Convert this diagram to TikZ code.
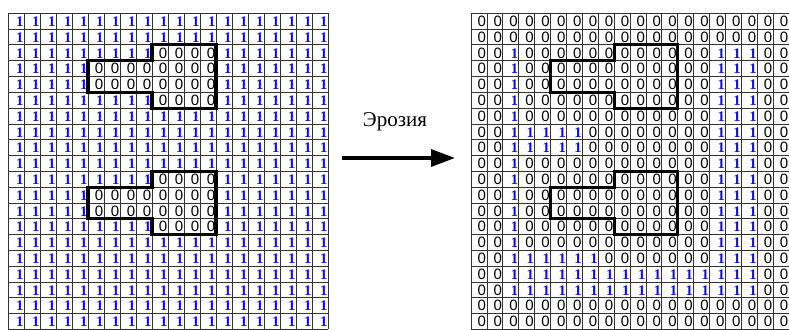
\documentclass[tikz,border=0pt]{standalone}
\usepackage{fontspec}
\setmainfont{Liberation Serif}
\newfontfamily\zerofont{Liberation Sans}
\usetikzlibrary{arrows.meta}
\definecolor{onecol}{RGB}{10,10,235}

\begin{document}
\begin{tikzpicture}[x=1pt,y=-1pt,
  gridline/.style={line width=0.8pt, draw=black!80},
  region/.style={line width=3.2pt, line join=miter, draw=black},
  onedigit/.style={anchor=base east, inner sep=0pt, text=onecol,
    font=\fontsize{14.6}{14.6}\selectfont\bfseries},
  zerodigit/.style={anchor=base east, inner sep=0pt, text=black,
    font=\fontsize{15}{15}\zerofont},
  bigarrow/.style={line width=3.3pt, -{Triangle[length=24pt,width=17pt]}},
  caption/.style={anchor=base, inner sep=0pt, font=\fontsize{21}{21}\selectfont}]

\useasboundingbox (0,0) rectangle (789,329);

% ---------- grid geometry: origin x, origin y, cell width, row height
\def\ly{13.3}
\def\rh{15.8}

% ---------- source image (left grid)
\def\lx{8}
\def\lw{16}
\foreach \r in {0,...,19}{
  \foreach \c in {0,...,19}{
    \pgfmathtruncatemacro{\z}{((\r==2||\r==5||\r==10||\r==13)&&(\c>=9)&&(\c<=12))||((\r==3||\r==4||\r==11||\r==12)&&(\c>=5)&&(\c<=12))}
    \ifnum\z=1
      \node[zerodigit] (L-\r-\c) at ({\lx+(\c+1)*\lw-0.7},{\ly+(\r+1)*\rh-2.6}) {0};
    \else
      \node[onedigit] (L-\r-\c) at ({\lx+(\c+1)*\lw-0.4},{\ly+(\r+1)*\rh-2.6}) {1};
    \fi
  }
}
\foreach \i in {0,...,20}{
  \draw[gridline] ({\lx+\i*\lw},\ly) -- ({\lx+\i*\lw},{\ly+20*\rh});
  \draw[gridline] (\lx,{\ly+\i*\rh}) -- ({\lx+20*\lw},{\ly+\i*\rh});
}
\foreach \ro in {2,10}{
  \draw[region] ({\lx+9*\lw},{\ly+\ro*\rh}) -- ++({4*\lw},0) -- ++(0,{4*\rh})
    -- ++({-4*\lw},0) -- ++(0,{-\rh}) -- ++({-4*\lw},0) -- ++(0,{-2*\rh})
    -- ++({4*\lw},0) -- cycle;
}

% ---------- result image (right grid)
\def\rx{471}
\def\rw{15.9}
\foreach \r in {0,...,19}{
  \foreach \c in {0,...,19}{
    \pgfmathtruncatemacro{\o}{((\c==2)&&(\r>=2)&&(\r<=17))||((\c>=15)&&(\c<=17)&&(\r>=2)&&(\r<=17))||((\r==7||\r==8)&&(\c>=2)&&(\c<=6))||((\r==15)&&(\c>=2)&&(\c<=7))||((\r==16||\r==17)&&(\c>=2)&&(\c<=17))}
    \ifnum\o=1
      \node[onedigit] (R-\r-\c) at ({\rx+(\c+1)*\rw-0.4},{\ly+(\r+1)*\rh-2.6}) {1};
    \else
      \node[zerodigit] (R-\r-\c) at ({\rx+(\c+1)*\rw-0.7},{\ly+(\r+1)*\rh-2.6}) {0};
    \fi
  }
}
\foreach \i in {0,...,20}{
  \draw[gridline] ({\rx+\i*\rw},\ly) -- ({\rx+\i*\rw},{\ly+20*\rh});
  \draw[gridline] (\rx,{\ly+\i*\rh}) -- ({\rx+20*\rw},{\ly+\i*\rh});
}
\foreach \ro in {2,10}{
  \draw[region] ({\rx+9*\rw},{\ly+\ro*\rh}) -- ++({4*\rw},0) -- ++(0,{4*\rh})
    -- ++({-4*\rw},0) -- ++(0,{-\rh}) -- ++({-4*\rw},0) -- ++(0,{-2*\rh})
    -- ++({4*\rw},0) -- cycle;
}

% ---------- operation arrow with its label
\coordinate (arrowtail) at (342,158);
\coordinate (arrowtip) at (455,158);
\draw[bigarrow] (arrowtail) -- (arrowtip);
\node[caption] (oplabel) at (395,126.7) {Эрозия};

\end{tikzpicture}
\end{document}
